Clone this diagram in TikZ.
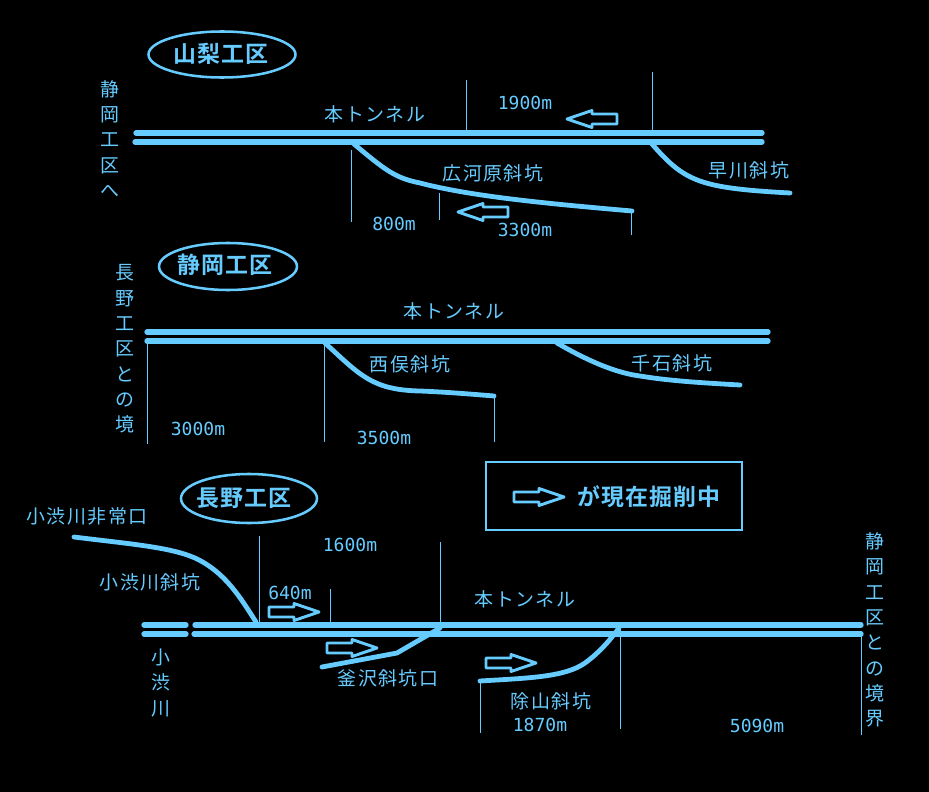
\documentclass[tikz,border=0pt]{standalone}
\usepackage{fontspec}
\newfontfamily\cjk[LetterSpace=8]{Noto Sans CJK JP}
\newfontfamily\cjkb[LetterSpace=5]{Noto Sans CJK JP Bold}
\newfontfamily\nummono{DejaVu Sans Mono}
\definecolor{sky}{HTML}{66CCFF}
\tikzset{
  lbl/.style={text=sky,inner sep=0pt,font=\cjk\fontsize{14.2}{19}\selectfont},
  vlbl/.style={lbl,align=center},
  num/.style={text=sky,inner sep=0pt,font=\nummono\fontsize{13.5}{16}\selectfont},
  head/.style={text=sky,inner sep=0pt,font=\cjkb\fontsize{17.2}{20}\selectfont},
  zone/.style={draw=sky,line width=1.9pt,fill=none},
  tunnel/.style={draw=sky,line width=4pt,line cap=round},
  shaft/.style={draw=sky,line width=3.6pt,line cap=round},
  dim/.style={draw=sky,line width=0.75pt},
  legend/.style={draw=sky,line width=2.1pt},
  rarrow/.pic={\draw[sky,line width=2.2pt,line join=round] (0,-5)--(25,-5)--(25,-8.5)--(50,0)--(25,8.5)--(25,5)--(0,5)--cycle;}
}
\begin{document}
\begin{tikzpicture}[x=0.75pt,y=-0.75pt]
\useasboundingbox (0,0) rectangle (929,792);
\fill[black] (0,0) rectangle (929,792);

% ---- Yamanashi
\draw[zone] (222,54.5) ellipse (73.5 and 23);
\node[head] (yamanashi) at (221,54) {山梨工区};
\node[vlbl] (toShizuoka) at (110,139) {静\\岡\\工\\区\\へ};
\coordinate (y1a) at (136,133); \coordinate (y1b) at (762,133);
\coordinate (y2a) at (135,142); \coordinate (y2b) at (762,142);
\draw[tunnel] (y1a) -- (y1b);
\draw[tunnel] (y2a) -- (y2b);
\coordinate (yb1s) at (354,144); \coordinate (yb1e) at (632,211);
\coordinate (yb2s) at (652,144); \coordinate (yb2e) at (790,193);
\draw[shaft] (yb1s) .. controls (385,170) and (395,178) .. (420,183) .. controls (470,196) and (540,203) .. (yb1e);
\draw[shaft] (yb2s) .. controls (685,182) and (700,188) .. (yb2e);
\coordinate (yd1a) at (466,80); \coordinate (yd1b) at (466,132);
\coordinate (yd2a) at (652,72); \coordinate (yd2b) at (652,132);
\coordinate (yd3a) at (351,150); \coordinate (yd3b) at (351,222);
\coordinate (yd4a) at (439,193); \coordinate (yd4b) at (439,220);
\coordinate (yd5a) at (631,212); \coordinate (yd5b) at (631,235);
\draw[dim] (yd1a) -- (yd1b);
\draw[dim] (yd2a) -- (yd2b);
\draw[dim] (yd3a) -- (yd3b);
\draw[dim] (yd4a) -- (yd4b);
\draw[dim] (yd5a) -- (yd5b);
\node[lbl] (yt) at (375,114) {本トンネル};
\node[num] (y1900) at (525,103) {1900m};
\node[lbl] (hirogawara) at (493,173) {広河原斜坑};
\node[lbl] (hayakawa) at (749,170) {早川斜坑};
\node[num] (y800) at (394,224) {800m};
\node[num] (y3300) at (525,230) {3300m};
\path (617,119) pic[xscale=-1] {rarrow};
\path (508,212) pic[xscale=-1] {rarrow};

% ---- Shizuoka
\draw[zone] (228,266.5) ellipse (69 and 23.5);
\node[head] (shizuoka) at (225,265) {静岡工区};
\node[vlbl] (toNagano) at (125,349) {長\\野\\工\\区\\と\\の\\境};
\coordinate (s1a) at (147,332); \coordinate (s1b) at (768,332);
\coordinate (s2a) at (147,341); \coordinate (s2b) at (768,341);
\draw[tunnel] (s1a) -- (s1b);
\draw[tunnel] (s2a) -- (s2b);
\coordinate (sb1s) at (325,343); \coordinate (sb1e) at (494,396);
\coordinate (sb2s) at (557,343); \coordinate (sb2e) at (740,385);
\draw[shaft] (sb1s) .. controls (360,375) and (372,390) .. (420,391) .. controls (445,392) and (470,394) .. (sb1e);
\draw[shaft] (sb2s) .. controls (600,368) and (625,374) .. (640,376) .. controls (670,381) and (705,383) .. (sb2e);
\coordinate (sd1a) at (147,343); \coordinate (sd1b) at (147,444);
\coordinate (sd2a) at (324,343); \coordinate (sd2b) at (324,442);
\coordinate (sd3a) at (494,396); \coordinate (sd3b) at (494,442);
\draw[dim] (sd1a) -- (sd1b);
\draw[dim] (sd2a) -- (sd2b);
\draw[dim] (sd3a) -- (sd3b);
\node[lbl] (st) at (454,311) {本トンネル};
\node[lbl] (nishimata) at (410,364) {西俣斜坑};
\node[lbl] (senseki) at (672,363) {千石斜坑};
\node[num] (s3000) at (198,429) {3000m};
\node[num] (s3500) at (384,438) {3500m};

% ---- Legend
\draw[legend] (486,462) rectangle (742,530);
\path (514,497) pic {rarrow};
\node[head] (legendtext) at (649,497) {が現在掘削中};

% ---- Nagano
\draw[zone] (249,498.5) ellipse (68 and 24.5);
\node[head] (nagano) at (244,498) {長野工区};
\node[lbl] (hijoguchi) at (87,516) {小渋川非常口};
\node[lbl] (koshibu) at (150,582) {小渋川斜坑};
\node[vlbl] (river) at (161,683) {小\\渋\\川};
\node[vlbl] (toShizuoka2) at (875,630) {静\\岡\\工\\区\\と\\の\\境\\界};
\coordinate (n1a) at (144,625); \coordinate (n1b) at (186,625);
\coordinate (n2a) at (144,634); \coordinate (n2b) at (186,634);
\coordinate (n3a) at (195,625); \coordinate (n3b) at (861,625);
\coordinate (n4a) at (194,634); \coordinate (n4b) at (861,634);
\draw[tunnel] (n1a) -- (n1b);
\draw[tunnel] (n2a) -- (n2b);
\draw[tunnel] (n3a) -- (n3b);
\draw[tunnel] (n4a) -- (n4b);
\coordinate (nb1s) at (74,537); \coordinate (nb1e) at (256,622);
\coordinate (nb2s) at (322,667); \coordinate (nb2m) at (397,653); \coordinate (nb2e) at (440,628);
\coordinate (nb3s) at (480,681); \coordinate (nb3e) at (619,628);
\draw[shaft] (nb1s) .. controls (130,544) and (170,547) .. (195,558) .. controls (225,572) and (240,597) .. (nb1e);
\draw[shaft] (nb2s) -- (nb2m) -- (nb2e);
\draw[shaft] (nb3s) .. controls (530,678) and (565,677) .. (585,663) .. controls (600,652) and (610,640) .. (nb3e);
\coordinate (nd1a) at (259,536); \coordinate (nd1b) at (259,622);
\coordinate (nd2a) at (330,589); \coordinate (nd2b) at (330,623);
\coordinate (nd3a) at (440,542); \coordinate (nd3b) at (440,623);
\coordinate (nd4a) at (620,628); \coordinate (nd4b) at (620,729);
\coordinate (nd5a) at (861,636); \coordinate (nd5b) at (861,735);
\coordinate (nd6a) at (480,682); \coordinate (nd6b) at (480,733);
\draw[dim] (nd1a) -- (nd1b);
\draw[dim] (nd2a) -- (nd2b);
\draw[dim] (nd3a) -- (nd3b);
\draw[dim] (nd4a) -- (nd4b);
\draw[dim] (nd5a) -- (nd5b);
\draw[dim] (nd6a) -- (nd6b);
\node[num] (n1600) at (350,545) {1600m};
\node[num] (n640) at (290,593) {640m};
\node[lbl] (nt) at (525,599) {本トンネル};
\node[lbl] (kamazawa) at (388,678) {釜沢斜坑口};
\node[lbl] (yokeyama) at (551,701) {除山斜坑};
\node[num] (n1870) at (540,725) {1870m};
\node[num] (n5090) at (757,726) {5090m};
\path (269,612) pic {rarrow};
\path (327,648) pic {rarrow};
\path (486,663) pic {rarrow};
\end{tikzpicture}
\end{document}
